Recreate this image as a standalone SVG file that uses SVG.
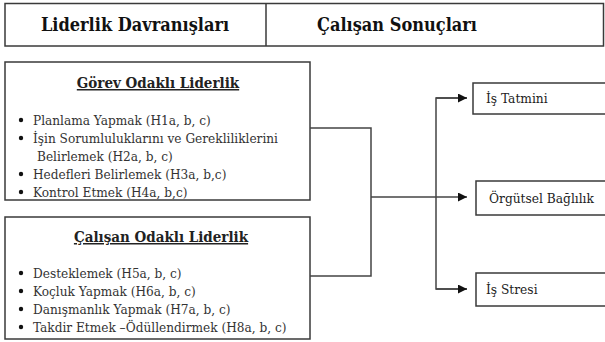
<svg xmlns="http://www.w3.org/2000/svg" width="605" height="342" viewBox="0 0 605 342">
<defs>
<style>
.box{fill:#fff;stroke:#3a3a3a;stroke-width:1.5}
text{font-family:"DejaVu Serif Condensed","DejaVu Serif","Liberation Serif",serif}
.hdr{font-weight:bold;font-size:18px;fill:#111;text-anchor:middle}
.ttl{font-weight:bold;font-size:15px;fill:#222;text-anchor:middle;text-decoration:underline}
.itm{font-size:13.5px;fill:#333}
.out{font-size:13.6px;fill:#222}
.ln{fill:none;stroke:#444;stroke-width:1.5}
</style>
<marker id="ah" viewBox="0 0 10 10" refX="10" refY="5" markerWidth="9" markerHeight="9" markerUnits="userSpaceOnUse" orient="auto">
<path d="M0,0 L10,5 L0,10 z" fill="#111"/>
</marker>
</defs>
<rect width="605" height="342" fill="#fff"/>
<g id="header">
<rect class="box" x="5" y="3.5" width="598.5" height="42.5"/>
<line x1="266" y1="3.5" x2="266" y2="46" stroke="#3a3a3a" stroke-width="1.5"/>
<text class="hdr" x="135" y="31">Liderlik Davranışları</text>
<text class="hdr" x="397" y="31">Çalışan Sonuçları</text>
</g>
<g id="gorev">
<rect class="box" x="5" y="62" width="305" height="138"/>
<text class="ttl" x="158" y="88">Görev Odaklı Liderlik</text>
<circle cx="21" cy="120" r="2.2" fill="#111"/><text class="itm" x="33" y="125">Planlama Yapmak (H1a, b, c)</text>
<circle cx="21" cy="138" r="2.2" fill="#111"/><text class="itm" x="33" y="143">İşin Sorumluluklarını ve Gerekliliklerini</text>
<text class="itm" x="37" y="161">Belirlemek (H2a, b, c)</text>
<circle cx="21" cy="174" r="2.2" fill="#111"/><text class="itm" x="33" y="179">Hedefleri Belirlemek (H3a, b,c)</text>
<circle cx="21" cy="192" r="2.2" fill="#111"/><text class="itm" x="33" y="197">Kontrol Etmek (H4a, b,c)</text>
</g>
<g id="calisan">
<rect class="box" x="5" y="217" width="305" height="122"/>
<text class="ttl" x="161" y="242">Çalışan Odaklı Liderlik</text>
<circle cx="21" cy="273" r="2.2" fill="#111"/><text class="itm" x="33" y="278">Desteklemek (H5a, b, c)</text>
<circle cx="21" cy="291" r="2.2" fill="#111"/><text class="itm" x="33" y="296">Koçluk Yapmak (H6a, b, c)</text>
<circle cx="21" cy="309" r="2.2" fill="#111"/><text class="itm" x="33" y="314">Danışmanlık Yapmak (H7a, b, c)</text>
<circle cx="21" cy="327" r="2.2" fill="#111"/><text class="itm" x="33" y="332">Takdir Etmek –Ödüllendirmek (H8a, b, c)</text>
</g>
<g id="is-tatmini">
<rect class="box" x="473" y="83" width="134" height="31"/>
<text class="out" x="486" y="103">İş Tatmini</text>
</g>
<g id="orgutsel-baglilik">
<rect class="box" x="476" y="181" width="131" height="34"/>
<text class="out" x="489" y="203">Örgütsel Bağlılık</text>
</g>
<g id="is-stresi">
<rect class="box" x="476" y="273" width="131" height="33"/>
<text class="out" x="486" y="294">İş Stresi</text>
</g>
<g id="connectors">
<polyline class="ln" points="310,128 371,128 371,276 310,276"/>
<line class="ln" x1="371" y1="197" x2="467" y2="197" marker-end="url(#ah)"/>
<polyline class="ln" points="467,98 436,98 436,289 467,289"/>
<line class="ln" x1="436" y1="98" x2="467" y2="98" marker-end="url(#ah)"/>
<line class="ln" x1="436" y1="289" x2="467" y2="289" marker-end="url(#ah)"/>
</g>
</svg>
